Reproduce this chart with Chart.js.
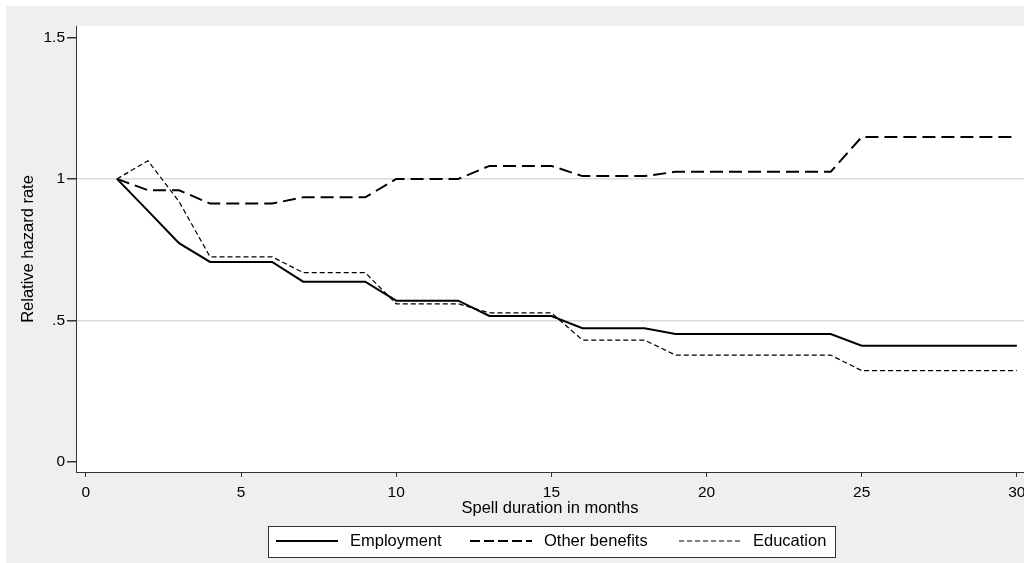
<!DOCTYPE html>
<html>
<head>
<meta charset="utf-8">
<script src="https://cdn.jsdelivr.net/npm/chart.js@4.4.1/dist/chart.umd.min.js"></script>
<style>
  html, body { margin: 0; padding: 0; background: #fff; }
  #wrap { width: 1024px; height: 563px; }
</style>
</head>
<body>
<div id="wrap"><canvas id="hazardChart" width="1024" height="563"></canvas></div>
<script>
// Chart data
const months = [1, 2, 3, 4, 5, 6, 7, 8, 9, 10, 11, 12, 13, 14, 15, 16, 17, 18, 19, 20, 21, 22, 23, 24, 25, 26, 27, 28, 29, 30];
const employment = [1.0, 0.887, 0.773, 0.707, 0.707, 0.707, 0.637, 0.637, 0.637, 0.57, 0.57, 0.57, 0.516, 0.516, 0.516,
    0.473, 0.473, 0.473, 0.452, 0.452, 0.452, 0.452, 0.452, 0.452, 0.411, 0.411, 0.411, 0.411, 0.411, 0.411];
const otherBenefits = [1.0, 0.96, 0.96, 0.913, 0.913, 0.913, 0.935, 0.935, 0.935, 1.0, 1.0, 1.0, 1.046, 1.046, 1.046,
    1.01, 1.01, 1.01, 1.025, 1.025, 1.025, 1.025, 1.025, 1.025, 1.148, 1.148, 1.148, 1.148, 1.148, 1.148];
const education = [1.0, 1.064, 0.92, 0.725, 0.725, 0.725, 0.669, 0.669, 0.669, 0.559, 0.559, 0.559, 0.527, 0.527, 0.527,
    0.431, 0.431, 0.431, 0.378, 0.378, 0.378, 0.378, 0.378, 0.378, 0.323, 0.323, 0.323, 0.323, 0.323, 0.323];
const seriesLabels = ['Employment', 'Other benefits', 'Education'];
const xTicks = [0, 5, 10, 15, 20, 25, 30];
const yTicks = [0, 0.5, 1, 1.5];
const yTickLabels = ['0', '.5', '1', '1.5'];

const FONT = 'Arial, "Liberation Sans", sans-serif';

function toPoints(values) {
    return months.map((m, i) => ({ x: m, y: values[i] }));
}

// Stata-like backgrounds: grey outer region, white plot region
const backgroundPlugin = {
    id: 'stataBackground',
    beforeDraw(chart) {
        const c = chart.ctx;
        const a = chart.chartArea;
        c.save();
        c.fillStyle = '#ffffff';
        c.fillRect(0, 0, chart.width, chart.height);
        c.fillStyle = '#efefef';
        c.fillRect(6, 6, chart.width - 6, chart.height - 6);
        c.fillStyle = '#ffffff';
        c.fillRect(a.left, a.top, a.right - a.left, a.bottom - a.top);
        c.restore();
    }
};

// Boxed legend below the axis title
const legendPlugin = {
    id: 'boxLegend',
    afterDraw(chart) {
        const c = chart.ctx;
        const boxLeft = 268, boxTop = 526, boxRight = 835, boxBottom = 557;
        const midY = 541;
        const sampleLen = 62;
        const itemStarts = [276, 470, 679];
        c.save();
        c.fillStyle = '#ffffff';
        c.fillRect(boxLeft, boxTop, boxRight - boxLeft, boxBottom - boxTop);
        c.strokeStyle = '#333';
        c.lineWidth = 1;
        c.strokeRect(boxLeft + 0.5, boxTop + 0.5, boxRight - boxLeft, boxBottom - boxTop);
        c.font = '16.5px ' + FONT;
        c.textBaseline = 'middle';
        c.fillStyle = '#000';
        chart.data.datasets.forEach((ds, i) => {
            const x0 = itemStarts[i];
            c.beginPath();
            c.setLineDash(ds.legendDash || []);
            c.lineWidth = ds.borderWidth;
            c.strokeStyle = ds.borderColor;
            c.moveTo(x0, midY);
            c.lineTo(x0 + sampleLen, midY);
            c.stroke();
            c.setLineDash([]);
            c.fillText(ds.label, x0 + sampleLen + 12, midY);
        });
        c.restore();
    }
};

const ctx = document.getElementById('hazardChart');
new Chart(ctx.getContext('2d'), {
    type: 'line',
    data: {
        datasets: [
            {
                label: seriesLabels[0],
                data: toPoints(employment),
                borderColor: '#000',
                borderWidth: 2,
                legendDash: []
            },
            {
                label: seriesLabels[1],
                data: toPoints(otherBenefits),
                borderColor: '#000',
                borderWidth: 2,
                borderDash: [13, 6],
                legendDash: [10, 4]
            },
            {
                label: seriesLabels[2],
                data: toPoints(education),
                borderColor: '#000',
                borderWidth: 1.2,
                borderDash: [5, 3],
                legendDash: [5, 3]
            }
        ]
    },
    options: {
        responsive: false,
        animation: false,
        devicePixelRatio: 1,
        elements: {
            point: { radius: 0, hoverRadius: 0 },
            line: { tension: 0, fill: false }
        },
        layout: {
            autoPadding: false,
            padding: { left: 0, top: 26, right: 0, bottom: 45 }
        },
        plugins: {
            legend: { display: false },
            tooltip: { enabled: false }
        },
        scales: {
            x: {
                type: 'linear',
                min: -0.32,
                max: 30.23,
                afterBuildTicks(scale) {
                    scale.ticks = xTicks.map(v => ({ value: v }));
                },
                afterFit(scale) {
                    scale.height = 46;
                    scale.paddingLeft = 0;
                    scale.paddingRight = 0;
                },
                grid: {
                    drawOnChartArea: false,
                    tickLength: 5,
                    tickColor: '#333'
                },
                border: { display: true, color: '#333', width: 1 },
                ticks: {
                    color: '#000',
                    padding: 6,
                    maxRotation: 0,
                    autoSkip: false,
                    font: { family: FONT, size: 15.5 }
                },
                title: {
                    display: true,
                    text: 'Spell duration in months',
                    color: '#000',
                    padding: { top: 0, bottom: 0 },
                    font: { family: FONT, size: 16.5 }
                }
            },
            y: {
                type: 'linear',
                min: -0.035,
                max: 1.54,
                afterBuildTicks(scale) {
                    scale.ticks = yTicks.map(v => ({ value: v }));
                },
                afterFit(scale) {
                    scale.width = 76;
                    scale.paddingTop = 0;
                    scale.paddingBottom = 0;
                },
                grid: {
                    color: (c) => (c.tick && (c.tick.value === 0.5 || c.tick.value === 1)) ? '#dadada' : 'rgba(0,0,0,0)',
                    lineWidth: 1.5,
                    tickLength: 9,
                    tickColor: '#333'
                },
                border: { display: true, color: '#333', width: 1 },
                ticks: {
                    color: '#000',
                    padding: 2,
                    autoSkip: false,
                    font: { family: FONT, size: 15.5 },
                    callback: (value) => {
                        const i = yTicks.indexOf(value);
                        return i >= 0 ? yTickLabels[i] : '';
                    }
                },
                title: {
                    display: true,
                    text: 'Relative hazard rate',
                    color: '#000',
                    padding: { top: 18.5, bottom: 0 },
                    font: { family: FONT, size: 16.5 }
                }
            }
        }
    },
    plugins: [backgroundPlugin, legendPlugin]
});
</script>
</body>
</html>
